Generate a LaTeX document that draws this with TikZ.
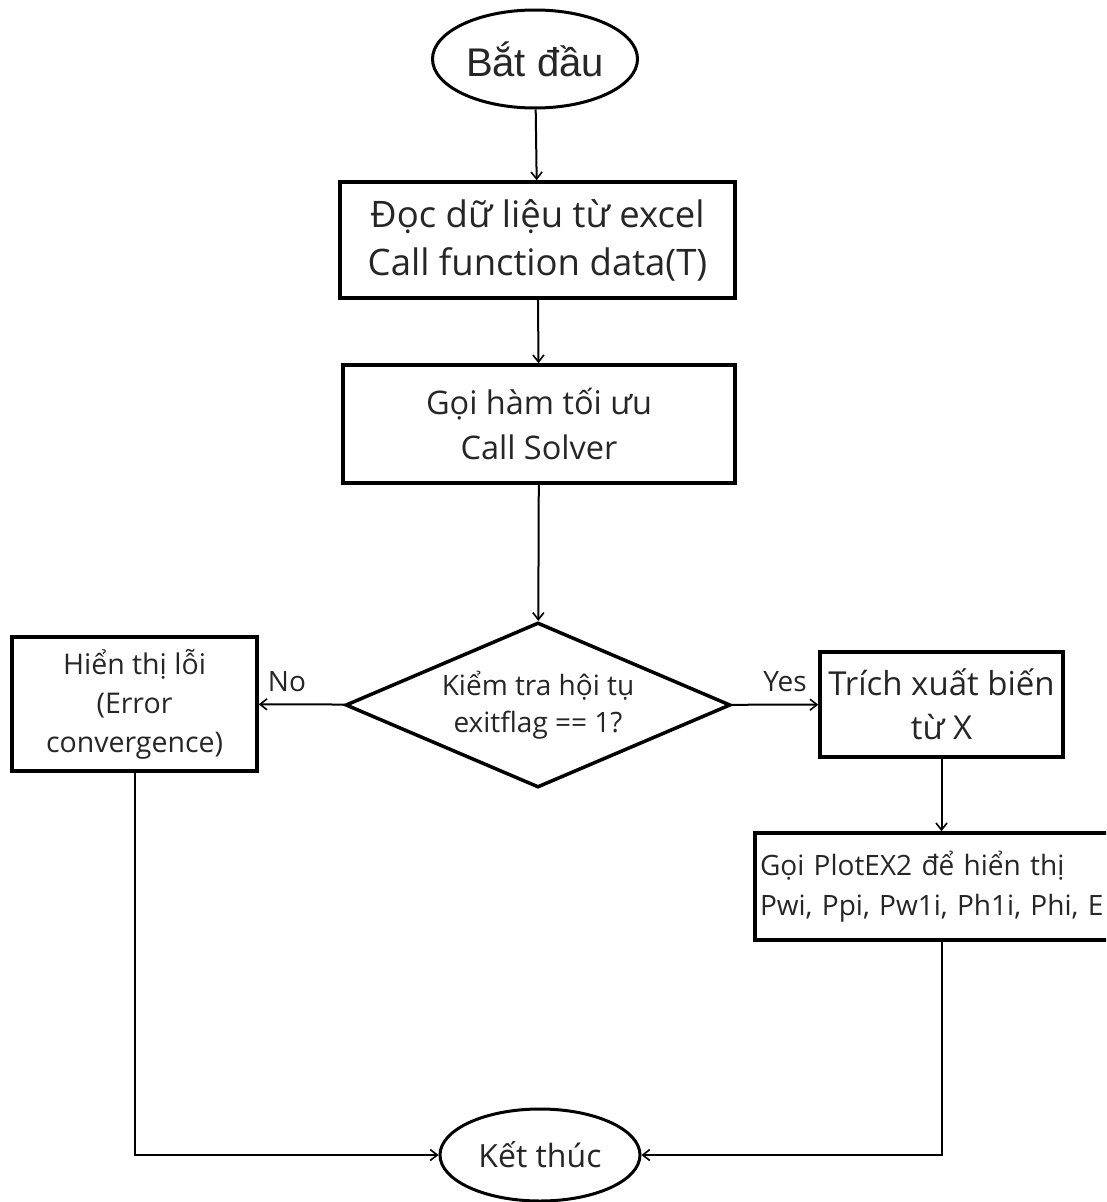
\documentclass[tikz,border=0pt]{standalone}
\usepackage{fontspec}
\setmainfont{Open Sans}
\newfontfamily\arialf{Liberation Sans}
\usetikzlibrary{shapes.geometric,arrows.meta}
\begin{document}
\begin{tikzpicture}[x=1pt,y=-1pt,
  box/.style={draw,line width=3.5pt,rectangle,inner sep=0pt,align=center,text=black!85},
  oval/.style={draw,line width=3pt,ellipse,inner sep=0pt,text=black!85},
  arr/.style={line width=2pt,-{Straight Barb[length=7pt,width=11pt,line width=1.6pt]}},
  lbl/.style={inner sep=0pt,text=black!85}]
\useasboundingbox (0,0) rectangle (1106,1202);
\clip (0,0) rectangle (1106,1202);
\fill[white] (0,0) rectangle (1106,1202);
\node[oval,minimum width=205pt,minimum height=98pt,font=\arialf\fontsize{40}{46}\selectfont] (start) at (535,59) {Bắt đầu};
\node[box,minimum width=395pt,minimum height=116pt,font=\fontsize{36.5}{48}\selectfont] (read) at (537.5,240) {Đọc dữ liệu từ excel\\Call function data(T)};
\node[box,minimum width=392pt,minimum height=118pt,font=\fontsize{32.5}{45}\selectfont] (solve) at (539,424) {Gọi hàm tối ưu\\Call Solver};
\node[draw,line width=3.5pt,diamond,minimum width=385pt,minimum height=165pt,inner sep=0pt,
  label={[align=center,text=black!85,font=\fontsize{28}{37}\selectfont]center:Kiểm tra hội tụ\\exitflag == 1?}] (dec) at (538,705) {};
\node[box,minimum width=245pt,minimum height=134pt,font=\fontsize{28.5}{39}\selectfont] (err) at (134.5,704) {Hiển thị lỗi\\(Error\\convergence)};
\node[box,minimum width=243pt,minimum height=105pt,font=\fontsize{33}{44}\selectfont] (ext) at (941.5,704.5) {Trích xuất biến\\từ X};
\node[box,minimum height=107pt,inner xsep=5pt,text width=360pt,align=left,font=\fontsize{28}{40}\selectfont] (plot) at (940,886.5) {Gọi PlotEX2 để hiển thị\\Pwi, Ppi, Pw1i, Ph1i, Phi, E};
\node[oval,minimum width=200pt,minimum height=92pt,font=\fontsize{32}{36}\selectfont] (end) at (540,1155) {Kết thúc};
\draw[arr] (start) -- (read);
\draw[arr] (read) -- (solve);
\draw[arr] (solve) -- (dec);
\draw[arr] (dec) -- (err);
\draw[arr] (dec) -- (ext);
\draw[arr] (ext) -- (ext |- plot.north);
\draw[arr] (plot.south -| ext.south) |- (end);
\draw[arr] (err) |- (end);
\node[lbl,font=\fontsize{28}{32}\selectfont] (no) at (287,682) {No};
\node[lbl,font=\fontsize{28}{32}\selectfont] (yes) at (785,682) {Yes};
\end{tikzpicture}
\end{document}
